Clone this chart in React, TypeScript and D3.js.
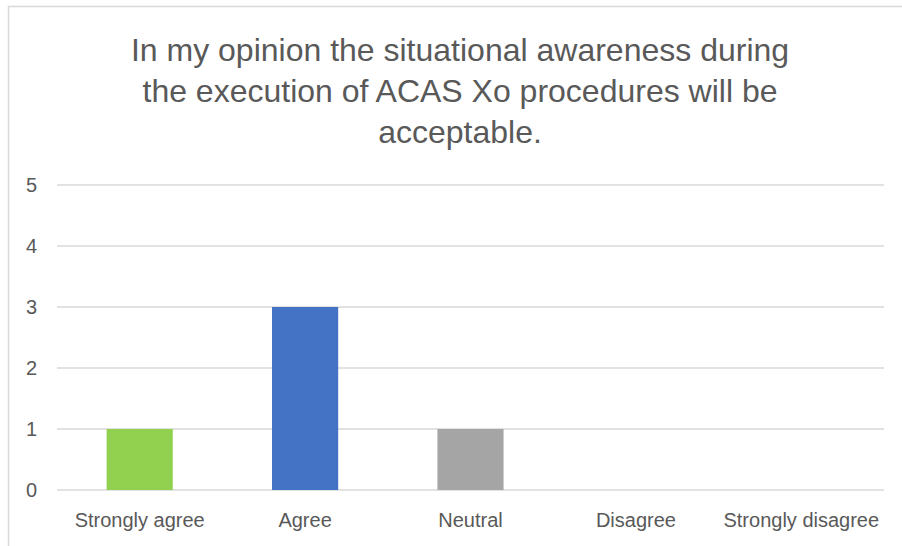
import React from "react";
import * as d3 from "d3";

const categories = ["Strongly agree", "Agree", "Neutral", "Disagree", "Strongly disagree"];
const values = [1, 3, 1, 0, 0];
const barColors = ["#92D050", "#4472C4", "#A5A5A5", "#FFC000", "#5B9BD5"];
const yTicks = [0, 1, 2, 3, 4, 5];
const titleLines = [
  "In my opinion the situational awareness during",
  "the execution of ACAS Xo procedures will be",
  "acceptable.",
];

export default function App() {
  const W = 902, H = 546;
  const left = 57, right = 884, top = 185, bottom = 490;
  const x = d3.scaleBand<string>().domain(categories).range([left, right]).padding(0);
  const y = d3.scaleLinear().domain([0, 5]).range([bottom, top]);
  const barW = x.bandwidth() * 0.4;
  const font = "'Liberation Sans', Arial, sans-serif";
  return (
    <svg width={W} height={H} style={{ position: "absolute", left: 0, top: 0, background: "#fff" }}>
      <rect x={0} y={0} width={W} height={H} fill="#fff" />
      <path d={`M8.5,${H} V6.5 H${W + 5}`} fill="none" stroke="#d9d9d9" strokeWidth={1.5} />
      {titleLines.map((t, i) => (
        <text key={i} x={460} y={61 + i * 41} textAnchor="middle" fontFamily={font} fontSize={32} fill="#595959">
          {t}
        </text>
      ))}
      {yTicks.map((t) => (
        <g key={t}>
          <line x1={left} x2={right} y1={y(t)} y2={y(t)} stroke="#d9d9d9" strokeWidth={1.5} />
          <text x={37} y={y(t)} dy="0.35em" textAnchor="end" fontFamily={font} fontSize={20} fill="#595959">
            {t}
          </text>
        </g>
      ))}
      {categories.map((c, i) => (
        <g key={c}>
          {values[i] > 0 && (
            <rect
              x={(x(c) as number) + x.bandwidth() / 2 - barW / 2}
              y={y(values[i])}
              width={barW}
              height={y(0) - y(values[i])}
              fill={barColors[i]}
            />
          )}
          <text x={(x(c) as number) + x.bandwidth() / 2} y={527} textAnchor="middle" fontFamily={font} fontSize={20} fill="#595959">
            {c}
          </text>
        </g>
      ))}
    </svg>
  );
}
